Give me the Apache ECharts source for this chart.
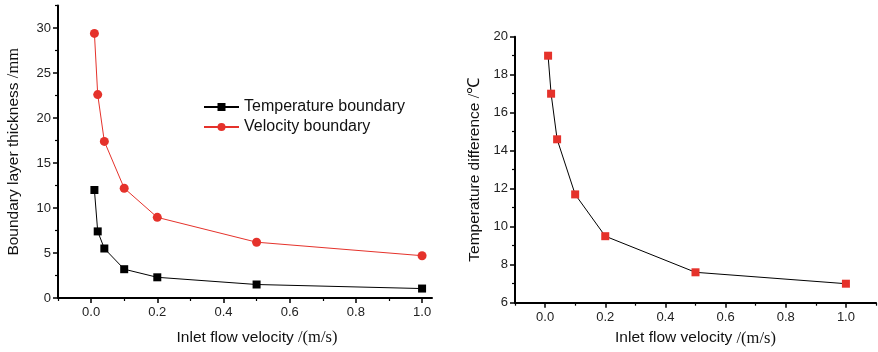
<!DOCTYPE html>
<html>
<head>
<meta charset="utf-8">
<script src="https://cdn.jsdelivr.net/npm/echarts@6/dist/echarts.min.js"></script>
<style>html,body{margin:0;padding:0;background:#fff}#c{width:878px;height:352px}</style>
</head>
<body>
<div id="c"></div>
<script>
// Data
var velocity = [0.01, 0.02, 0.04, 0.1, 0.2, 0.5, 1.0];
var tempBoundary = [12.0, 7.4, 5.5, 3.2, 2.3, 1.5, 1.05];
var velBoundary = [29.4, 22.6, 17.4, 12.2, 8.96, 6.2, 4.7];
var tempDiff = [19.0, 17.0, 14.6, 11.7, 9.5, 7.6, 7.0];
var xMajor = [0, 0.2, 0.4, 0.6, 0.8, 1.0];
var xMinor = [-0.1, 0.1, 0.3, 0.5, 0.7, 0.9];
var xMinorRight = [-0.1, 0.1, 0.3, 0.5, 0.7, 0.9, 1.1];
var yLeftMajor = [0, 5, 10, 15, 20, 25, 30];
var yLeftMinor = [2.5, 7.5, 12.5, 17.5, 22.5, 27.5, 32.5];
var yRightMajor = [6, 8, 10, 12, 14, 16, 18, 20];
var yRightMinor = [7, 9, 11, 13, 15, 17, 19];

function pairs(xs, ys){ return xs.map(function(x,i){ return [x, ys[i]]; }); }

var FONT = 'Liberation Sans, Arial, sans-serif';
var SERIF = 'Liberation Serif, Times New Roman, serif';
var RED = '#e5322b';

function majorAxis(opts){
  return Object.assign({
    type: 'value',
    axisLine: { show: true, onZero: false, lineStyle: { color: '#000', width: 2 } },
    splitLine: { show: false }
  }, opts);
}
function minorAxis(opts){
  return Object.assign({
    type: 'value',
    axisLine: { show: false, onZero: false },
    axisLabel: { show: false },
    splitLine: { show: false }
  }, opts);
}
function majorTick(vals){ return { show: true, inside: false, length: 5, customValues: vals, lineStyle: { color: '#000', width: 1.5 } }; }
function minorTick(vals){ return { show: true, inside: false, length: 3, customValues: vals, lineStyle: { color: '#000', width: 1.2 } }; }
function label(vals, margin, fmt){
  var o = { color: '#222', fontSize: 13, fontFamily: FONT, margin: margin, customValues: vals };
  if (fmt) o.formatter = fmt;
  return o;
}
function fx(v){ return v.toFixed(1); }

var nameRich = {
  a: { fontFamily: FONT, fontSize: 15.5, color: '#111' },
  b: { fontFamily: SERIF, fontSize: 16.5, color: '#111' }
};

var chart = echarts.init(document.getElementById('c'), null, { renderer: 'canvas' });
chart.setOption({
  animation: false,
  backgroundColor: '#fff',
  textStyle: { fontFamily: FONT },
  grid: [
    { left: 58, right: 446, top: 5.5, bottom: 54, containLabel: false },
    { left: 515, right: 2, top: 36.7, bottom: 49.3, containLabel: false }
  ],
  legend: {
    data: ['Temperature boundary', 'Velocity boundary'],
    orient: 'vertical',
    left: 203, top: 99, padding: 0,
    itemWidth: 35, itemHeight: 10, itemGap: 4,
    textStyle: { fontSize: 16, color: '#111', fontFamily: FONT }
  },
  xAxis: [
    majorAxis({ gridIndex: 0, position: 'bottom', min: -0.1, max: 1.03,
      axisTick: majorTick(xMajor), axisLabel: label(xMajor, 8, fx),
      name: '{a|Inlet flow velocity }{b|/(m/s)}', nameLocation: 'middle', nameGap: 31,
      nameTextStyle: { rich: nameRich, padding: [0, 0, 0, 24] } }),
    minorAxis({ gridIndex: 0, position: 'bottom', min: -0.1, max: 1.03, axisTick: minorTick(xMinor) }),
    majorAxis({ gridIndex: 1, position: 'bottom', min: -0.1, max: 1.1,
      axisTick: majorTick(xMajor), axisLabel: label(xMajor, 8, fx),
      name: '{a|Inlet flow velocity }{b|/(m/s)}', nameLocation: 'middle', nameGap: 27,
      nameTextStyle: { rich: nameRich } }),
    minorAxis({ gridIndex: 1, position: 'bottom', min: -0.1, max: 1.1, axisTick: minorTick(xMinorRight) })
  ],
  yAxis: [
    majorAxis({ gridIndex: 0, position: 'left', min: 0, max: 32.5,
      axisTick: majorTick(yLeftMajor), axisLabel: label(yLeftMajor, 7),
      name: '{a|Boundary layer thickness }{b|/mm}', nameLocation: 'middle', nameGap: 36,
      nameTextStyle: { rich: nameRich } }),
    minorAxis({ gridIndex: 0, position: 'left', min: 0, max: 32.5, axisTick: minorTick(yLeftMinor) }),
    majorAxis({ gridIndex: 1, position: 'left', min: 6, max: 20,
      axisTick: majorTick(yRightMajor), axisLabel: label(yRightMajor, 7),
      name: '{a|Temperature difference }{b|/℃}', nameLocation: 'middle', nameGap: 32,
      nameTextStyle: { rich: nameRich } }),
    minorAxis({ gridIndex: 1, position: 'left', min: 6, max: 20, axisTick: minorTick(yRightMinor) })
  ],
  series: [
    { name: 'Temperature boundary', type: 'line', xAxisIndex: 0, yAxisIndex: 0,
      data: pairs(velocity, tempBoundary), symbol: 'rect', symbolSize: 8,
      itemStyle: { color: '#000' }, lineStyle: { color: '#000', width: 1 } },
    { name: 'Velocity boundary', type: 'line', xAxisIndex: 0, yAxisIndex: 0,
      data: pairs(velocity, velBoundary), symbol: 'circle', symbolSize: 9,
      itemStyle: { color: RED }, lineStyle: { color: RED, width: 1 } },
    { name: 'Temperature difference', type: 'line', xAxisIndex: 2, yAxisIndex: 2,
      data: pairs(velocity, tempDiff), symbol: 'rect', symbolSize: 8,
      itemStyle: { color: RED }, lineStyle: { color: '#000', width: 1 } }
  ]
});
</script>
</body>
</html>
